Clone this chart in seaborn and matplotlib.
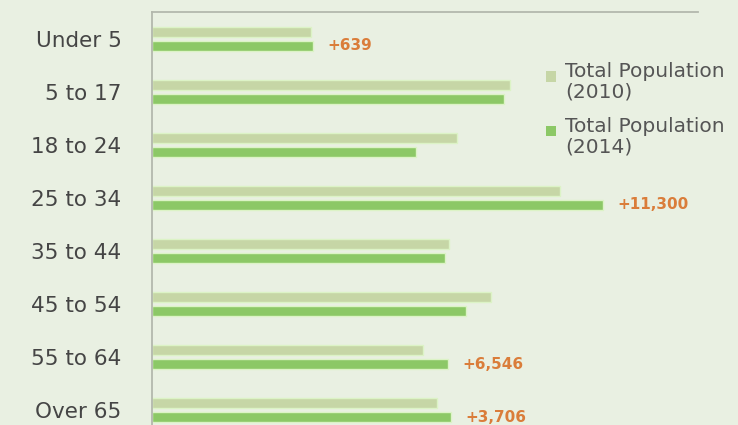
import matplotlib
matplotlib.use("Agg")
import matplotlib.pyplot as plt
from matplotlib.patches import Rectangle
from matplotlib.legend_handler import HandlerPatch
import seaborn as sns
import pandas as pd

# Population by age group
age_groups = ["Under 5", "5 to 17", "18 to 24", "25 to 34",
              "35 to 44", "45 to 54", "55 to 64", "Over 65"]
pop_2010 = [41300, 93080, 79300, 106080, 77220, 88140, 70460, 74100]
pop_2014 = [41939, 91520, 68640, 117380, 76180, 81640, 77006, 77806]
# Groups whose growth is called out next to the bar
growth_labels = {"Under 5": "+639", "25 to 34": "+11,300",
                 "55 to 64": "+6,546", "Over 65": "+3,706"}

series_names = ["Total Population\n(2010)", "Total Population\n(2014)"]
colors = ["#c6d6a6", "#8cc866"]
bg = "#e9f0e2"

df = pd.DataFrame({
    "group": age_groups * 2,
    "population": pop_2010 + pop_2014,
    "series": [series_names[0]] * len(age_groups) + [series_names[1]] * len(age_groups),
})

sns.set_style("white")
plt.rcParams["font.family"] = ["DejaVu Sans"]

fig = plt.figure(figsize=(7.38, 4.25), dpi=100, facecolor=bg)
ax = fig.add_axes([152 / 738, 0.0, (698 - 152) / 738, 1 - 12 / 425])
ax.set_facecolor(bg)

sns.barplot(data=df, y="group", x="population", hue="series",
            order=age_groups, hue_order=series_names, palette=colors,
            orient="h", width=0.52, gap=0.26, ax=ax,
            edgecolor="#dcf3c6", linewidth=1.0, saturation=1)

ax.set_xlim(0, 142000)
ax.set_ylim(7.28, -0.51)
ax.set_xlabel("")
ax.set_ylabel("")
ax.set_xticks([])
ax.tick_params(axis="y", length=0, pad=22, labelsize=15.5, labelcolor="#454545")

for side in ("right", "bottom"):
    ax.spines[side].set_visible(False)
for side in ("top", "left"):
    ax.spines[side].set_color("#b3b8ad")
    ax.spines[side].set_linewidth(1.3)

# Growth callouts beside the 2014 bars
offset = 0.52 / 4
for i, g in enumerate(age_groups):
    if g in growth_labels:
        ax.annotate(growth_labels[g], xy=(pop_2014[i], i + offset),
                    xytext=(10, 0), textcoords="offset points",
                    va="center", ha="left", fontsize=11, fontweight="bold",
                    color="#da7d3a")


# Small square key aligned with the first line of each two-line label
def top_square(legend, orig_handle, xdescent, ydescent, width, height, fontsize):
    side = 0.5 * fontsize
    return Rectangle((-xdescent, -ydescent + height - side - 0.2 * fontsize), side, side)


handles, labels = ax.get_legend_handles_labels()
leg = ax.legend(handles, labels, loc="upper left",
                bbox_to_anchor=(546 / 738, 1 - 62 / 425),
                bbox_transform=fig.transFigure, frameon=False, fontsize=14.5,
                labelcolor="#555555", handlelength=0.5, handleheight=2.0,
                handletextpad=0.45, labelspacing=0.75, borderaxespad=0, borderpad=0,
                handler_map={Rectangle: HandlerPatch(patch_func=top_square)})
for t in leg.get_texts():
    t.set_linespacing(1.12)
for h in leg.legend_handles:
    h.set_edgecolor("none")

fig.savefig("out.png", dpi=100, facecolor=bg)
